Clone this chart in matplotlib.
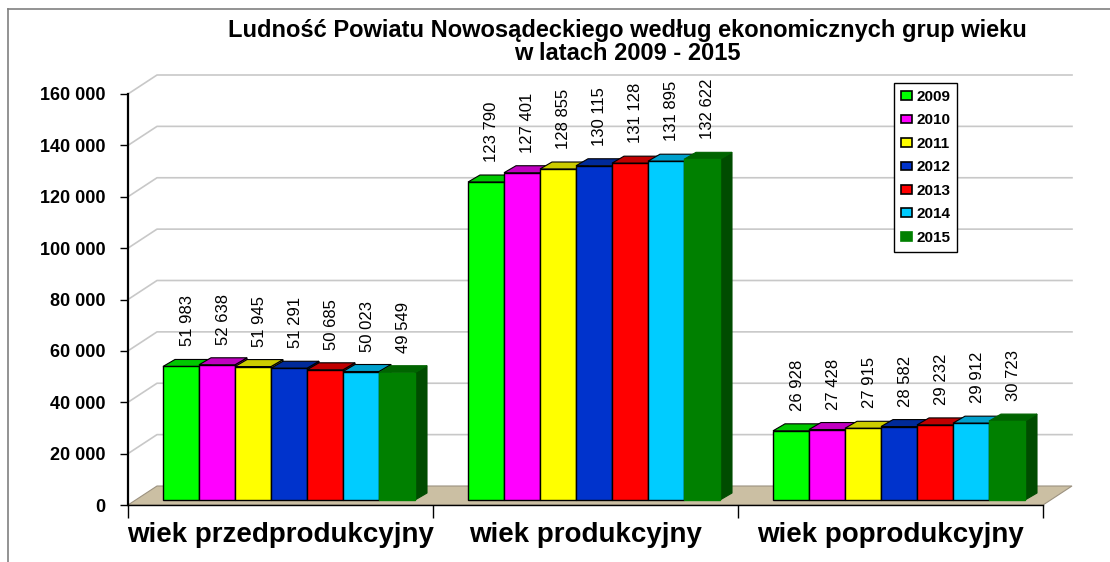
import matplotlib.pyplot as plt
from matplotlib.patches import Polygon, Patch
from matplotlib.lines import Line2D

plt.rcParams['font.family'] = ['Liberation Sans', 'DejaVu Sans']

# data
categories = ["wiek przedprodukcyjny", "wiek produkcyjny", "wiek poprodukcyjny"]
years = ["2009", "2010", "2011", "2012", "2013", "2014", "2015"]
values = {
    "2009": [51983, 123790, 26928],
    "2010": [52638, 127401, 27428],
    "2011": [51945, 128855, 27915],
    "2012": [51291, 130115, 28582],
    "2013": [50685, 131128, 29232],
    "2014": [50023, 131895, 29912],
    "2015": [49549, 132622, 30723],
}
front_colors = ["#00FF00", "#FF00FF", "#FFFF00", "#0033CC", "#FF0000", "#00CCFF", "#008000"]
top_colors = ["#00C800", "#C000C0", "#CCCC00", "#002A99", "#C00000", "#00A0CC", "#006400"]
side_colors = ["#00A000", "#A000A0", "#A0A000", "#002080", "#A00000", "#0088AA", "#004C00"]

W, H = 1110, 562
fig = plt.figure(figsize=(W / 100, H / 100), dpi=100)
# front plane of the 3d box: x 128..1043 px, y 94..505 px
ax = fig.add_axes([128 / W, 57 / H, 915 / W, 411 / H])
ax.set_xlim(0, 3)
ax.set_ylim(0, 160000)

# px -> data conversion
ux = 3 / 915
uy = 160000 / 411
DX, DY = 29 * ux, 19 * uy          # full depth of the box
b0 = 5 * uy                        # bars sit a bit behind the front edge
x_start = 35 * ux
bw = 36 * ux
sdx, sdy = 12 * ux, 7 * uy         # bar depth

# floor
ax.add_patch(Polygon([(0, 0), (3, 0), (3 + DX, DY), (DX, DY)], closed=True,
                     facecolor="#CBBFA3", edgecolor="#9C9280", lw=0.8, zorder=1, clip_on=False))

# walls gridlines
for v in range(20000, 160001, 20000):
    ax.plot([0, DX, 3 + DX], [v, v + DY, v + DY], color="#C8C8C8", lw=1.2,
            zorder=0.5, clip_on=False)

for i, yr in enumerate(years):
    xs = [g + x_start + i * bw for g in range(3)]
    vals = values[yr]
    last = yr == "2015"
    ec = front_colors[i] if last else "black"
    z = 3 + i
    for x0, v in zip(xs, vals):
        top = b0 + v
        ax.add_patch(Polygon([(x0 + bw, b0), (x0 + bw, top), (x0 + bw + sdx, top + sdy),
                              (x0 + bw + sdx, b0 + sdy)], closed=True,
                             facecolor=side_colors[i], edgecolor=side_colors[i] if last else "black",
                             lw=0.8, zorder=z, clip_on=False))
        ax.add_patch(Polygon([(x0, top), (x0 + bw, top), (x0 + bw + sdx, top + sdy),
                              (x0 + sdx, top + sdy)], closed=True,
                             facecolor=top_colors[i], edgecolor=top_colors[i] if last else "black",
                             lw=0.8, zorder=z, clip_on=False))
        ax.text(x0 + bw / 2 + 6 * ux, top + 20 * uy, f"{v:,}".replace(",", " "),
                rotation=90, ha="center", va="bottom", fontsize=12, zorder=20)
    ax.bar(xs, vals, width=bw, bottom=b0, align="edge", color=front_colors[i],
           edgecolor=ec, linewidth=1.0, zorder=z + 0.5, clip_on=False)

# axes styling
for s in ["top", "right"]:
    ax.spines[s].set_visible(False)
ax.spines["left"].set_linewidth(1.6)
ax.spines["bottom"].set_linewidth(1.0)
ax.set_yticks(range(0, 160001, 20000))
ax.set_yticklabels([f"{v:,}".replace(",", " ") for v in range(0, 160001, 20000)],
                   fontsize=13, fontweight="bold")
ax.tick_params(axis="y", direction="out", length=6, width=1, pad=10)
ax.set_xticks([0, 1, 2, 3])
ax.set_xticklabels([])
ax.tick_params(axis="x", which="major", direction="out", length=9, width=1)
ax.set_xticks([0.5, 1.5, 2.5], minor=True)
ax.set_xticklabels(categories, minor=True, fontsize=20, fontweight="bold")
ax.tick_params(axis="x", which="minor", length=0, pad=12)
ax.patch.set_visible(False)

# title
fig.text(627 / W, 1 - 30 / H, "Ludność Powiatu Nowosądeckiego według ekonomicznych grup wieku",
         ha="center", va="center", fontsize=17, fontweight="bold")
fig.text(627 / W, 1 - 54 / H, "w latach 2009 - 2015",
         ha="center", va="center", fontsize=17, fontweight="bold")

# legend
handles = [Patch(facecolor=front_colors[i], edgecolor=front_colors[i] if years[i] == "2015" else "black",
                 lw=1.2) for i in range(len(years))]
leg = fig.legend(handles, years, loc="upper left", bbox_to_anchor=(894 / W, 1 - 83 / H),
                 borderaxespad=0, fancybox=False, framealpha=1, edgecolor="black",
                 prop={"weight": "bold", "size": 11}, handlelength=0.7, handleheight=0.5,
                 handletextpad=0.3, labelspacing=0.62, borderpad=0.45)
leg.get_frame().set_linewidth(1.0)

# outer frame
fig.add_artist(Line2D([8 / W, 8 / W], [1 - 9 / H, 0], color="#808080", lw=1.2))
fig.add_artist(Line2D([8 / W, 1], [1 - 9 / H, 1 - 9 / H], color="#808080", lw=1.2))

fig.savefig("out.png", dpi=100)
